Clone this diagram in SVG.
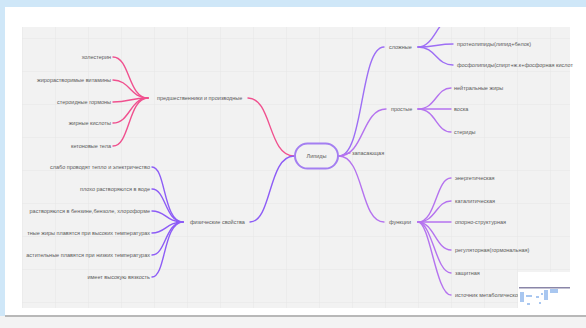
<svg xmlns="http://www.w3.org/2000/svg" width="586" height="328" viewBox="0 0 586 328">
<defs>
<pattern id="grid" x="22" y="5" width="33" height="33" patternUnits="userSpaceOnUse">
<path d="M0 0 V33 M0 0 H33" fill="none" stroke="#e5e5e5" stroke-width="1"/>
</pattern>
<clipPath id="area"><rect x="22" y="27" width="548" height="281"/></clipPath>
<style>
text{font-family:"Liberation Sans",Arial,sans-serif;font-size:5.5px;fill:#5a5a5a}
.r{text-anchor:end}
.c{text-anchor:middle}
.ln{fill:none;stroke-width:1.4;stroke-linecap:round}
.pink{stroke:#f0518f}
.vio{stroke:#8d5cf6}
.sl{stroke:#9d6ef5}
.pr{stroke:#b573ef}
</style>
</defs>
<rect width="586" height="328" fill="#f3f3f3"/>
<rect width="586" height="7" fill="#cfe7f8"/>
<rect width="5" height="316" fill="#cfe7f8"/>
<rect x="5" y="7" width="581" height="309" fill="#ffffff"/>
<rect x="5" y="315" width="581" height="2" fill="#b8b8b8"/>
<rect x="22" y="27" width="548" height="281" fill="#f2f2f2"/>
<rect x="22" y="27" width="548" height="281" fill="url(#grid)"/>

<g id="connectors" clip-path="url(#area)">
<path class="ln pink" d="M294 156 C268 156 272 98 248 98"/>
<path class="ln pink" d="M148 98 C128 98 130 57 113 57"/>
<path class="ln pink" d="M148 98 C130 98 130 80 113 80"/>
<path class="ln pink" d="M148 98 C130 98 130 102 113 102"/>
<path class="ln pink" d="M148 98 C130 98 130 123 113 123"/>
<path class="ln pink" d="M148 98 C128 98 130 146 113 146"/>
<path class="ln vio" d="M294 156 C268 156 272 222 250 222"/>
<path class="ln vio" d="M183 222 C163 222 166 167 152 167"/>
<path class="ln vio" d="M183 222 C165 222 166 189 152 189"/>
<path class="ln vio" d="M183 222 C166 222 166 211 152 211"/>
<path class="ln vio" d="M183 222 C166 222 166 233 152 233"/>
<path class="ln vio" d="M183 222 C165 222 166 255 152 255"/>
<path class="ln vio" d="M183 222 C163 222 166 277 152 277"/>
<path class="ln sl" d="M339 156 C364 156 360 47 384 47"/>
<path class="ln sl" d="M418 47 C432 47 436 27 446 20"/>
<path class="ln sl" d="M418 47 C434 47 438 44 453 44"/>
<path class="ln sl" d="M418 47 C436 47 436 65 453 65"/>
<path class="ln pr" d="M339 156 C364 156 362 109 386 109"/>
<path class="ln pr" d="M418 109 C436 109 436 88 451 88"/>
<path class="ln pr" d="M418 109 C436 109 436 109 451 109"/>
<path class="ln pr" d="M418 109 C436 109 436 132 451 132"/>
<path class="ln pr" d="M339 156 C344 156 344 153 350 153"/>
<path class="ln pr" d="M339 156 C364 156 360 222 384 222"/>
<path class="ln pr" d="M418 222 C436 222 436 178 451 178"/>
<path class="ln pr" d="M418 222 C436 222 436 201 451 201"/>
<path class="ln pr" d="M418 222 C436 222 436 222 451 222"/>
<path class="ln pr" d="M418 222 C434 222 436 250 451 250"/>
<path class="ln pr" d="M418 222 C432 222 436 273 451 273"/>
<path class="ln pr" d="M418 222 C430 222 436 295 451 295"/>
</g>

<g id="center">
<rect x="295" y="143.5" width="43" height="25" rx="12.5" fill="#f2f2f2" stroke="#a47ff1" stroke-width="2"/>
<text class="c" x="316.5" y="158">Липиды</text>
</g>

<g id="pred"><text x="157" y="100">предшественники и производные</text></g>
<g id="pred1"><text class="r" x="111" y="59">холестерин</text></g>
<g id="pred2"><text class="r" x="111" y="82">жирорастворимые витамины</text></g>
<g id="pred3"><text class="r" x="111" y="104">стероидные гормоны</text></g>
<g id="pred4"><text class="r" x="111" y="125">жирные кислоты</text></g>
<g id="pred5"><text class="r" x="111" y="148">кетоновые тела</text></g>

<g id="phys"><text x="190" y="224">физические свойства</text></g>
<g id="phys1"><text class="r" x="150" y="169">слабо проводят тепло и электричество</text></g>
<g id="phys2"><text class="r" x="150" y="191">плохо растворяются в воде</text></g>
<g id="phys3"><text class="r" x="150" y="213">растворяются в бензине,бензоле, хлороформе</text></g>
<g id="phys4"><text class="r" x="150" y="235">тные жиры плавятся при высоких температурах</text></g>
<g id="phys5"><text class="r" x="150" y="257">астительные плавятся при низких температурах</text></g>
<g id="phys6"><text class="r" x="150" y="279">имеет высокую вязкость</text></g>

<g id="slozh"><text x="389" y="49">сложные</text></g>
<g id="slozh1"><text x="457" y="46">протеолипиды(липид+белок)</text></g>
<g id="slozh2"><text x="457" y="67">фосфолипиды(спирт+ж.к+фосфорная кислот</text></g>

<g id="prost"><text x="391" y="111">простые</text></g>
<g id="prost1"><text x="454" y="90">нейтральные жиры</text></g>
<g id="prost2"><text x="454" y="111">воска</text></g>
<g id="prost3"><text x="454" y="134">стериды</text></g>

<g id="zap"><text x="352" y="155">запасающая</text></g>

<g id="func"><text x="389" y="224">функции</text></g>
<g id="func1"><text x="455" y="180">энергетическая</text></g>
<g id="func2"><text x="455" y="203">каталитическая</text></g>
<g id="func3"><text x="455" y="224">опорно-структурная</text></g>
<g id="func4"><text x="455" y="252">регуляторная(гормональная)</text></g>
<g id="func5"><text x="455" y="275">защитная</text></g>
<g id="func6"><text x="455" y="297">источник метаболической</text></g>

<rect x="518" y="272" width="52" height="38" fill="#ffffff"/>
<rect x="519" y="287" width="51" height="1.5" fill="#8a86a8"/>
<g fill="#a9c7f0">
<rect x="520" y="292" width="4" height="10"/>
<rect x="526" y="295" width="6" height="2"/>
<rect x="536" y="296" width="3" height="2"/>
<rect x="541" y="293" width="2" height="2"/>
<rect x="544" y="290" width="4" height="10"/>
<rect x="550" y="289" width="8" height="4"/>
<rect x="527" y="303" width="3" height="2"/>
<rect x="539" y="302" width="2" height="2"/>
</g>
</svg>
